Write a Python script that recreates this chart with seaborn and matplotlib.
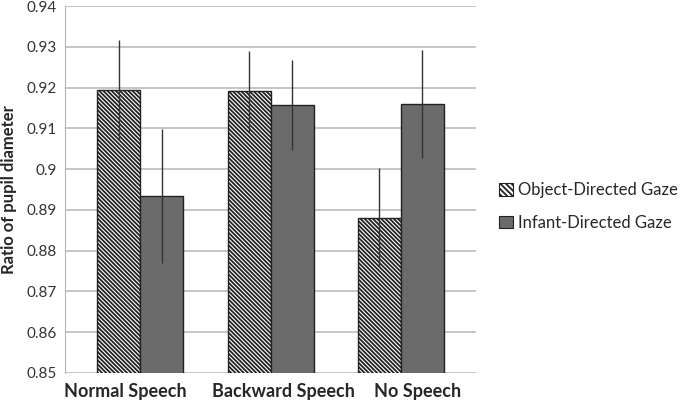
import pandas as pd
import seaborn as sns
import matplotlib.pyplot as plt
import matplotlib.transforms as mtransforms
import numpy as np

# -----------------------------
# Data
# -----------------------------
conditions = ['Normal Speech', 'Backward Speech', 'No Speech']
gaze_types = ['Object-Directed Gaze', 'Infant-Directed Gaze']
object_means = [0.9195, 0.9191, 0.8881]
infant_means = [0.8934, 0.9157, 0.9159]
object_err = [0.0121, 0.0099, 0.0122]
infant_err = [0.0165, 0.0111, 0.0133]

df = pd.DataFrame({
    'Condition': conditions * 2,
    'Gaze': [gaze_types[0]] * 3 + [gaze_types[1]] * 3,
    'Ratio': object_means + infant_means,
    'Err': object_err + infant_err,
})

HATCH = '\\' * 8

# -----------------------------
# Styling
# -----------------------------
sns.set_style("white")
plt.rcParams['font.family'] = ['Lato', 'DejaVu Sans']
plt.rcParams['hatch.linewidth'] = 1.3
plt.rcParams['hatch.color'] = '#222222'

fig = plt.figure(figsize=(6.85, 4.04), dpi=100)
ax = fig.add_axes([0.095, 0.077, 0.600, 0.908])

sns.barplot(
    data=df, x='Condition', y='Ratio', hue='Gaze',
    order=conditions, hue_order=gaze_types,
    palette=['white', '#6b6b6b'], errorbar=None,
    width=0.66, edgecolor='#222222', linewidth=1.0, ax=ax,
)

# hatch the object-directed bars, then add the errorbars at bar centres
for container, gaze in zip(ax.containers, gaze_types):
    sub = df[df['Gaze'] == gaze].set_index('Condition').loc[conditions]
    for patch, err in zip(container, sub['Err']):
        if gaze == gaze_types[0]:
            patch.set_hatch(HATCH)
        x = patch.get_x() + patch.get_width() / 2
        ax.errorbar(x, patch.get_height(), yerr=err, color='#333333',
                    elinewidth=1.0, capsize=0, zorder=5)

ax.set_ylim(0.85, 0.94)
ax.set_xlim(-0.577, 2.577)
ax.set_yticks(np.arange(0.85, 0.9401, 0.01))
ax.set_yticklabels(['0.85', '0.86', '0.87', '0.88', '0.89', '0.9',
                    '0.91', '0.92', '0.93', '0.94'])
ax.yaxis.grid(True, color='#b5b5b5', linewidth=1.1)
ax.set_axisbelow(True)
for side in ['top', 'right', 'bottom']:
    ax.spines[side].set_visible(False)
ax.spines['left'].set_color('#b5b5b5')
ax.tick_params(axis='y', length=0, labelsize=11, labelcolor='#333333', pad=6)
ax.tick_params(axis='x', length=0, labelsize=13, pad=7)

# category labels sit slightly off-centre in the original, so nudge them
label_shift = [-15, 13, 17]
for lbl, dx in zip(ax.get_xticklabels(), label_shift):
    lbl.set_fontweight('bold')
    lbl.set_transform(lbl.get_transform() +
                      mtransforms.ScaledTranslation(dx / 100, 0, fig.dpi_scale_trans))
ax.set_xlabel('')
ax.set_ylabel('Ratio of pupil diameter', fontsize=12, fontweight='bold', labelpad=7)

leg = ax.legend(loc='center left', bbox_to_anchor=(1.02, 0.454), frameon=False,
                fontsize=12, handlelength=0.8, handleheight=0.8,
                handletextpad=0.3, labelspacing=1.0)
leg.legend_handles[0].set_hatch('\\' * 6)
for h in leg.legend_handles:
    h.set_linewidth(0.8)

plt.savefig('out.png', dpi=100)
plt.close()
